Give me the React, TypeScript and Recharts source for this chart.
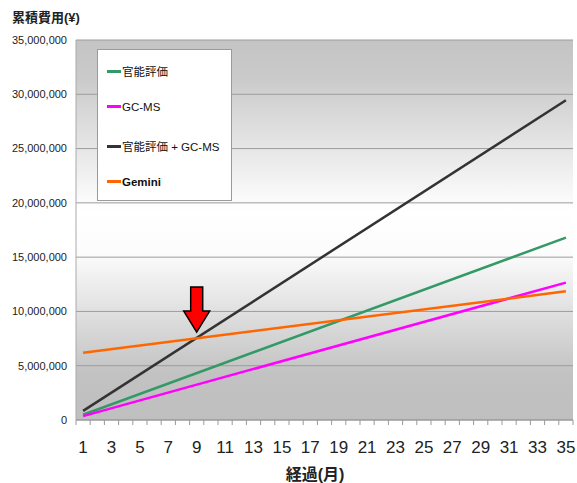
import {
  LineChart,
  Line,
  XAxis,
  YAxis,
  CartesianGrid,
  Legend,
  ReferenceDot,
} from "recharts";

const months = [
  1, 2, 3, 4, 5, 6, 7, 8, 9, 10, 11, 12, 13, 14, 15, 16, 17, 18, 19, 20, 21, 22, 23, 24, 25, 26,
  27, 28, 29, 30, 31, 32, 33, 34, 35,
];
const yTicks = [0, 5000000, 10000000, 15000000, 20000000, 25000000, 30000000, 35000000];

// cumulative cost, read at month 1 and month 35 (straight lines in the picture)
const sensoryEval = [
  { month: 1, cost: 480000 },
  { month: 35, cost: 16800000 },
];
const gcms = [
  { month: 1, cost: 360000 },
  { month: 35, cost: 12650000 },
];
const sensoryPlusGcms = [
  { month: 1, cost: 840000 },
  { month: 35, cost: 29450000 },
];
const gemini = [
  { month: 1, cost: 6200000 },
  { month: 35, cost: 11850000 },
];

const series = [
  { name: "官能評価", data: sensoryEval, color: "#339966", bold: false },
  { name: "GC-MS", data: gcms, color: "#ff00ff", bold: false },
  { name: "官能評価 + GC-MS", data: sensoryPlusGcms, color: "#333333", bold: false },
  { name: "Gemini", data: gemini, color: "#ff6600", bold: true },
];

const arrowAt = { month: 9, cost: 8100000 };

const W = 577;
const H = 483;
const PLOT_LEFT = 76;
const PLOT_RIGHT = 573;
const STEP = (PLOT_RIGHT - PLOT_LEFT) / months.length;
const FONT = '"Liberation Sans", Arial, "Noto Sans CJK JP", sans-serif';

function MonthTick(props: any) {
  const { x, y, payload } = props;
  const m = payload.value as number;
  const last = m === months[months.length - 1];
  return (
    <g>
      <line x1={x - STEP / 2} x2={x - STEP / 2} y1={y} y2={y + 5} stroke="#999" />
      {last && <line x1={x + STEP / 2} x2={x + STEP / 2} y1={y} y2={y + 5} stroke="#999" />}
      {m % 2 === 1 && (
        <text x={x} y={y + 33} textAnchor="middle" fontSize={17} fill="#222" fontFamily={FONT}>
          {m}
        </text>
      )}
    </g>
  );
}

function Arrow(props: any) {
  const { cx, cy } = props;
  const pts = [
    [0, 0],
    [-13, -21],
    [-6, -21],
    [-6, -45],
    [6, -45],
    [6, -21],
    [13, -21],
  ]
    .map(([dx, dy]) => `${cx + dx},${cy + dy}`)
    .join(" ");
  return <polygon points={pts} fill="#ff0000" stroke="#000" strokeWidth={1.5} />;
}

function LegendBox() {
  return (
    <div
      style={{
        width: 135,
        height: 152,
        boxSizing: "border-box",
        background: "#fff",
        border: "1px solid #9a9a9a",
        position: "relative",
        fontFamily: FONT,
      }}
    >
      {series.map((s, i) => (
        <div
          key={s.name}
          style={{
            position: "absolute",
            left: 9,
            top: 13 + i * 37.5,
            display: "flex",
            alignItems: "center",
            fontSize: 11.5,
            fontWeight: s.bold ? "bold" : "normal",
            color: "#111",
            whiteSpace: "nowrap",
          }}
        >
          <span style={{ display: "inline-block", width: 14, height: 3, background: s.color, marginRight: 1 }} />
          {s.name}
        </div>
      ))}
    </div>
  );
}

export default function App() {
  return (
    <div style={{ position: "absolute", left: 0, top: 0, width: W, height: H, background: "#fff", fontFamily: FONT }}>
      <div style={{ position: "absolute", left: 12, top: 7, fontSize: 13, fontWeight: "bold", color: "#222" }}>
        累積費用(¥)
      </div>
      <LineChart width={W} height={H} margin={{ top: 40, right: W - PLOT_RIGHT, bottom: 33, left: 6 }}>
        <defs>
          <linearGradient id="plotBg" x1="0" y1="0" x2="0" y2="1">
            <stop offset="0%" stopColor="#c4c4c4" />
            <stop offset="10%" stopColor="#cacaca" />
            <stop offset="45%" stopColor="#ffffff" />
            <stop offset="56%" stopColor="#fcfcfc" />
            <stop offset="88%" stopColor="#c2c2c2" />
            <stop offset="100%" stopColor="#bfbfbf" />
          </linearGradient>
        </defs>
        <CartesianGrid vertical={false} stroke="#9c9c9c" fill="url(#plotBg)" />
        <XAxis
          type="number"
          dataKey="month"
          domain={[0.5, 35.5]}
          ticks={months}
          interval={0}
          height={30}
          tickSize={0}
          tickMargin={0}
          tickLine={false}
          axisLine={{ stroke: "#999" }}
          tick={<MonthTick />}
        />
        <YAxis
          type="number"
          domain={[0, 35000000]}
          ticks={yTicks}
          width={70}
          tickSize={0}
          tickMargin={9}
          axisLine={{ stroke: "#aaa" }}
          tickLine={false}
          tick={{ fontSize: 11, fill: "#222", fontFamily: FONT }}
          tickFormatter={(v: number) => v.toLocaleString("en-US")}
        />
        {series.map((s) => (
          <Line
            key={s.name}
            data={s.data}
            dataKey="cost"
            name={s.name}
            stroke={s.color}
            strokeWidth={2.5}
            dot={false}
            isAnimationActive={false}
          />
        ))}
        <ReferenceDot x={arrowAt.month} y={arrowAt.cost} r={0} shape={<Arrow />} />
        <Legend
          layout="vertical"
          align="center"
          verticalAlign="middle"
          wrapperStyle={{ left: 97, top: 49, width: 135, height: 152 }}
          content={() => <LegendBox />}
        />
      </LineChart>
      <div
        style={{
          position: "absolute",
          left: 0,
          width: 630,
          top: 461,
          textAlign: "center",
          fontSize: 16,
          fontWeight: "bold",
          color: "#222",
        }}
      >
        経過(月)
      </div>
    </div>
  );
}
